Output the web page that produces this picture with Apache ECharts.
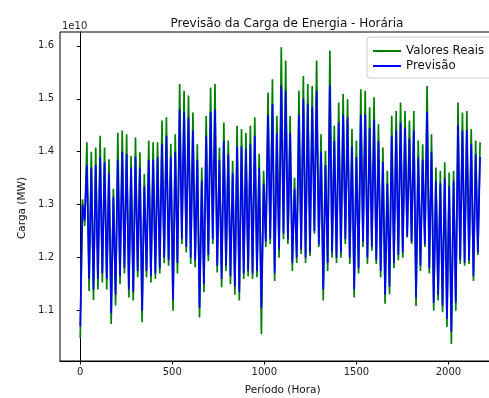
<!DOCTYPE html>
<html>
<head>
<meta charset="utf-8">
<script src="https://cdn.jsdelivr.net/npm/echarts@6/dist/echarts.min.js"></script>
<style>
html,body{margin:0;padding:0;background:#fff;overflow:hidden;width:489px;height:398px;}
#chart{width:520px;height:398px;}
</style>
</head>
<body>
<div id="chart"></div>
<script>
// Samples are daily trough / peak pairs, one every 12 hours (values in units of 1e10 MW)
const sampleStepHours = 12;
const xTicks = [0, 500, 1000, 1500, 2000];
const yTicks = [1.1, 1.2, 1.3, 1.4, 1.5, 1.6];
const seriesNames = ['Valores Reais', 'Previsão'];

const realValues = [
  1.048,1.31, 1.26,1.418, 1.137,1.40, 1.12,1.408, 1.14,1.43, 1.153,1.408, 1.14,1.386, 1.075,1.33,
  1.11,1.436, 1.15,1.44, 1.17,1.433, 1.125,1.392, 1.119,1.427, 1.163,1.399, 1.078,1.358, 1.163,1.421,
  1.153,1.418, 1.16,1.418, 1.17,1.459, 1.19,1.465, 1.185,1.415, 1.10,1.433,
  1.17,1.528, 1.226,1.515, 1.21,1.506, 1.188,1.474, 1.182,1.414, 1.087,1.37, 1.135,1.468, 1.194,1.521,
  1.226,1.528, 1.172,1.408, 1.144,1.455, 1.175,1.421, 1.15,1.383, 1.13,1.449, 1.119,1.443, 1.16,1.436,
  1.165,1.449, 1.16,1.465, 1.163,1.396, 1.056,1.364, 1.22,1.512, 1.226,1.537, 1.156,1.468, 1.20,1.597,
  1.235,1.572, 1.226,1.468, 1.175,1.351, 1.19,1.515, 1.207,1.543, 1.19,1.528, 1.203,1.524, 1.245,1.572,
  1.22,1.433, 1.119,1.402, 1.175,1.591, 1.2,1.449, 1.19,1.493, 1.2,1.509, 1.226,1.499, 1.188,1.443,
  1.125,1.421, 1.17,1.518, 1.22,1.515, 1.188,1.484, 1.213,1.503, 1.188,1.452, 1.163,1.408,
  1.113,1.364, 1.131,1.468, 1.18,1.477, 1.195,1.493, 1.2,1.477, 1.238,1.459, 1.226,1.477, 1.109,1.421,
  1.175,1.414, 1.22,1.524, 1.17,1.433, 1.10,1.37, 1.119,1.364, 1.097,1.38, 1.069,1.361, 1.037,1.364,
  1.10,1.493, 1.188,1.474, 1.185,1.477, 1.188,1.443, 1.156,1.421, 1.205,1.418
];

const forecastValues = [
  1.07,1.30, 1.27,1.375, 1.16,1.37, 1.14,1.375, 1.16,1.39, 1.17,1.38, 1.16,1.36, 1.095,1.315,
  1.13,1.385, 1.165,1.40, 1.18,1.395, 1.14,1.37, 1.135,1.39, 1.175,1.37, 1.10,1.335, 1.175,1.385,
  1.165,1.385, 1.17,1.39, 1.18,1.415, 1.20,1.43, 1.195,1.39, 1.12,1.40,
  1.19,1.48, 1.235,1.475, 1.22,1.465, 1.20,1.44, 1.195,1.385, 1.105,1.345, 1.15,1.43, 1.205,1.475,
  1.235,1.48, 1.185,1.385, 1.16,1.42, 1.185,1.395, 1.165,1.36, 1.145,1.41, 1.135,1.41, 1.17,1.405,
  1.175,1.415, 1.17,1.43, 1.175,1.37, 1.105,1.34, 1.23,1.47, 1.235,1.49, 1.17,1.435, 1.215,1.525,
  1.245,1.515, 1.235,1.435, 1.19,1.33, 1.20,1.47, 1.215,1.50, 1.20,1.49, 1.21,1.485, 1.25,1.515,
  1.225,1.40, 1.14,1.375, 1.19,1.525, 1.21,1.42, 1.20,1.455, 1.21,1.47, 1.235,1.465, 1.20,1.41,
  1.14,1.39, 1.18,1.47, 1.23,1.47, 1.20,1.445, 1.22,1.46, 1.195,1.42, 1.175,1.38,
  1.13,1.34, 1.145,1.43, 1.19,1.44, 1.205,1.455, 1.21,1.445, 1.24,1.425, 1.23,1.44, 1.125,1.39,
  1.185,1.385, 1.225,1.475, 1.18,1.40, 1.115,1.345, 1.13,1.34, 1.11,1.35, 1.085,1.335, 1.06,1.345,
  1.115,1.45, 1.195,1.44, 1.19,1.44, 1.195,1.415, 1.165,1.395, 1.21,1.39
];

const FONT = 'DejaVu Sans';
const chart = echarts.init(document.getElementById('chart'), null, {renderer: 'canvas'});
const toPairs = arr => arr.map((v, i) => [i * sampleStepHours, v]);

chart.setOption({
  animation: false,
  backgroundColor: '#fff',
  title: {
    text: 'Previsão da Carga de Energia - Horária',
    left: 282, top: 13, textAlign: 'center',
    textStyle: {fontFamily: FONT, fontSize: 12, fontWeight: 'normal', color: '#111'}
  },
  legend: {
    orient: 'vertical',
    left: 367, top: 37,
    padding: [8, 8, 6, 6],
    itemGap: 3,
    itemWidth: 28, itemHeight: 2,
    icon: 'rect',
    backgroundColor: 'rgba(255,255,255,0.85)',
    borderColor: '#ccc', borderWidth: 1, borderRadius: 3,
    textStyle: {fontFamily: FONT, fontSize: 11.8, color: '#111'},
    data: seriesNames
  },
  grid: {
    left: 60, top: 32, width: 445.5, height: 329,
    outerBoundsMode: 'none',
    show: true, borderColor: '#000', borderWidth: 1, containLabel: false
  },
  xAxis: {
    type: 'value', min: -110, max: 2310,
    name: 'Período (Hora)', nameLocation: 'middle', nameGap: 24,
    nameTextStyle: {fontFamily: FONT, fontSize: 10.5, color: '#111'},
    axisLine: {show: true, lineStyle: {color: '#000', width: 1}},
    axisTick: {show: true, length: 3.5, customValues: xTicks, lineStyle: {color: '#000'}},
    axisLabel: {customValues: xTicks, margin: 6, fontFamily: FONT, fontSize: 10, color: '#222',
      formatter: v => String(v)},
    splitLine: {show: false}
  },
  yAxis: {
    type: 'value', min: 1.005, max: 1.626,
    axisLine: {show: true, lineStyle: {color: '#000', width: 1}},
    axisTick: {show: true, length: 3.5, customValues: yTicks, lineStyle: {color: '#000'}},
    axisLabel: {customValues: yTicks, margin: 6, fontFamily: FONT, fontSize: 10, color: '#222',
      formatter: v => v.toFixed(1)},
    splitLine: {show: false}
  },
  graphic: [
    {type: 'text', left: 62, top: 21, style: {text: '1e10', font: '10px "DejaVu Sans"', fill: '#222'}},
    {type: 'text', x: 22, y: 208, rotation: Math.PI / 2,
      style: {text: 'Carga (MW)', font: '10.5px "DejaVu Sans"', fill: '#111', align: 'center', verticalAlign: 'middle'}}
  ],
  series: [
    {name: seriesNames[0], type: 'line', data: toPairs(realValues), symbol: 'none', showSymbol: false,
      color: '#008000', lineStyle: {color: '#008000', width: 1.7}, z: 2},
    {name: seriesNames[1], type: 'line', data: toPairs(forecastValues), symbol: 'none', showSymbol: false,
      color: '#0000ff', lineStyle: {color: '#0000ff', width: 1.7}, z: 3}
  ]
});
</script>
</body>
</html>
